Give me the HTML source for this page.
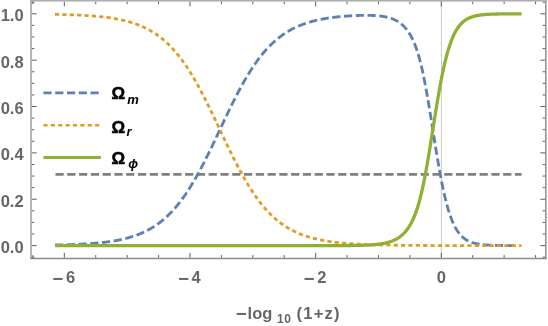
<!DOCTYPE html>
<html><head><meta charset="utf-8"><title>plot</title>
<style>html,body{margin:0;padding:0;background:#fff;}svg{display:block;will-change:transform;}</style>
</head><body>
<svg width="548" height="326" viewBox="0 0 548 326">
<rect x="0" y="0" width="548" height="326" fill="#ffffff"/>
<line x1="441.40" y1="0.80" x2="441.40" y2="258.50" stroke="#c2c2c2" stroke-width="0.9"/>
<path d="M55.5,174.35 L521.6,174.35" fill="none" stroke="#808080" stroke-width="2.9" stroke-dasharray="8.2 3.58"/>
<path d="M55.00,245.05 L55.52,245.04 L56.04,245.03 L56.56,245.02 L57.08,245.01 L57.60,245.00 L58.11,244.98 L58.63,244.97 L59.15,244.96 L59.67,244.95 L60.19,244.94 L60.71,244.92 L61.23,244.91 L61.75,244.90 L62.27,244.88 L62.79,244.87 L63.30,244.86 L63.82,244.84 L64.34,244.83 L64.86,244.81 L65.38,244.80 L65.90,244.78 L66.42,244.77 L66.94,244.75 L67.46,244.73 L67.98,244.72 L68.49,244.70 L69.01,244.68 L69.53,244.67 L70.05,244.65 L70.57,244.63 L71.09,244.61 L71.61,244.59 L72.13,244.57 L72.65,244.55 L73.17,244.53 L73.68,244.51 L74.20,244.49 L74.72,244.47 L75.24,244.45 L75.76,244.43 L76.28,244.41 L76.80,244.38 L77.32,244.36 L77.84,244.34 L78.36,244.31 L78.87,244.29 L79.39,244.26 L79.91,244.24 L80.43,244.21 L80.95,244.18 L81.47,244.16 L81.99,244.13 L82.51,244.10 L83.03,244.07 L83.55,244.04 L84.07,244.01 L84.58,243.98 L85.10,243.95 L85.62,243.92 L86.14,243.89 L86.66,243.86 L87.18,243.82 L87.70,243.79 L88.22,243.76 L88.74,243.72 L89.26,243.68 L89.77,243.65 L90.29,243.61 L90.81,243.57 L91.33,243.53 L91.85,243.49 L92.37,243.45 L92.89,243.41 L93.41,243.37 L93.93,243.33 L94.45,243.29 L94.96,243.24 L95.48,243.20 L96.00,243.15 L96.52,243.11 L97.04,243.06 L97.56,243.01 L98.08,242.96 L98.60,242.91 L99.12,242.86 L99.64,242.81 L100.15,242.75 L100.67,242.70 L101.19,242.65 L101.71,242.59 L102.23,242.53 L102.75,242.47 L103.27,242.42 L103.79,242.36 L104.31,242.29 L104.83,242.23 L105.35,242.17 L105.86,242.10 L106.38,242.04 L106.90,241.97 L107.42,241.90 L107.94,241.83 L108.46,241.76 L108.98,241.69 L109.50,241.61 L110.02,241.54 L110.54,241.46 L111.05,241.38 L111.57,241.30 L112.09,241.22 L112.61,241.14 L113.13,241.06 L113.65,240.97 L114.17,240.88 L114.69,240.80 L115.21,240.71 L115.73,240.61 L116.24,240.52 L116.76,240.42 L117.28,240.33 L117.80,240.23 L118.32,240.13 L118.84,240.02 L119.36,239.92 L119.88,239.81 L120.40,239.71 L120.92,239.60 L121.43,239.48 L121.95,239.37 L122.47,239.25 L122.99,239.13 L123.51,239.01 L124.03,238.89 L124.55,238.77 L125.07,238.64 L125.59,238.51 L126.11,238.38 L126.62,238.24 L127.14,238.11 L127.66,237.97 L128.18,237.82 L128.70,237.68 L129.22,237.53 L129.74,237.38 L130.26,237.23 L130.78,237.08 L131.30,236.92 L131.82,236.76 L132.33,236.60 L132.85,236.43 L133.37,236.26 L133.89,236.09 L134.41,235.91 L134.93,235.74 L135.45,235.56 L135.97,235.37 L136.49,235.18 L137.01,234.99 L137.52,234.80 L138.04,234.60 L138.56,234.40 L139.08,234.19 L139.60,233.99 L140.12,233.78 L140.64,233.56 L141.16,233.34 L141.68,233.12 L142.20,232.89 L142.71,232.66 L143.23,232.43 L143.75,232.19 L144.27,231.95 L144.79,231.70 L145.31,231.45 L145.83,231.19 L146.35,230.94 L146.87,230.67 L147.39,230.40 L147.90,230.13 L148.42,229.85 L148.94,229.57 L149.46,229.29 L149.98,229.00 L150.50,228.70 L151.02,228.40 L151.54,228.09 L152.06,227.78 L152.58,227.47 L153.09,227.15 L153.61,226.82 L154.13,226.49 L154.65,226.16 L155.17,225.81 L155.69,225.47 L156.21,225.12 L156.73,224.76 L157.25,224.39 L157.77,224.02 L158.29,223.65 L158.80,223.27 L159.32,222.88 L159.84,222.49 L160.36,222.09 L160.88,221.68 L161.40,221.27 L161.92,220.86 L162.44,220.43 L162.96,220.00 L163.48,219.57 L163.99,219.12 L164.51,218.67 L165.03,218.22 L165.55,217.76 L166.07,217.29 L166.59,216.81 L167.11,216.33 L167.63,215.84 L168.15,215.34 L168.67,214.84 L169.18,214.33 L169.70,213.81 L170.22,213.28 L170.74,212.75 L171.26,212.21 L171.78,211.66 L172.30,211.11 L172.82,210.54 L173.34,209.98 L173.86,209.40 L174.37,208.81 L174.89,208.22 L175.41,207.62 L175.93,207.01 L176.45,206.40 L176.97,205.77 L177.49,205.14 L178.01,204.50 L178.53,203.86 L179.05,203.20 L179.57,202.54 L180.08,201.87 L180.60,201.19 L181.12,200.50 L181.64,199.81 L182.16,199.10 L182.68,198.39 L183.20,197.67 L183.72,196.95 L184.24,196.21 L184.76,195.47 L185.27,194.72 L185.79,193.96 L186.31,193.19 L186.83,192.41 L187.35,191.63 L187.87,190.84 L188.39,190.04 L188.91,189.23 L189.43,188.42 L189.95,187.59 L190.46,186.76 L190.98,185.92 L191.50,185.08 L192.02,184.22 L192.54,183.36 L193.06,182.49 L193.58,181.61 L194.10,180.73 L194.62,179.83 L195.14,178.94 L195.65,178.03 L196.17,177.11 L196.69,176.19 L197.21,175.26 L197.73,174.33 L198.25,173.39 L198.77,172.44 L199.29,171.48 L199.81,170.52 L200.33,169.55 L200.84,168.58 L201.36,167.59 L201.88,166.61 L202.40,165.61 L202.92,164.61 L203.44,163.61 L203.96,162.60 L204.48,161.58 L205.00,160.56 L205.52,159.53 L206.04,158.50 L206.55,157.47 L207.07,156.42 L207.59,155.38 L208.11,154.33 L208.63,153.27 L209.15,152.21 L209.67,151.15 L210.19,150.09 L210.71,149.02 L211.23,147.94 L211.74,146.87 L212.26,145.79 L212.78,144.70 L213.30,143.62 L213.82,142.53 L214.34,141.44 L214.86,140.35 L215.38,139.26 L215.90,138.16 L216.42,137.06 L216.93,135.96 L217.45,134.86 L217.97,133.76 L218.49,132.66 L219.01,131.56 L219.53,130.46 L220.05,129.36 L220.57,128.25 L221.09,127.15 L221.61,126.05 L222.12,124.95 L222.64,123.85 L223.16,122.75 L223.68,121.65 L224.20,120.56 L224.72,119.46 L225.24,118.37 L225.76,117.28 L226.28,116.19 L226.80,115.11 L227.32,114.02 L227.83,112.94 L228.35,111.86 L228.87,110.79 L229.39,109.72 L229.91,108.65 L230.43,107.59 L230.95,106.53 L231.47,105.47 L231.99,104.42 L232.51,103.37 L233.02,102.33 L233.54,101.29 L234.06,100.25 L234.58,99.23 L235.10,98.20 L235.62,97.18 L236.14,96.17 L236.66,95.16 L237.18,94.16 L237.70,93.17 L238.21,92.18 L238.73,91.19 L239.25,90.22 L239.77,89.25 L240.29,88.28 L240.81,87.32 L241.33,86.37 L241.85,85.43 L242.37,84.49 L242.89,83.56 L243.40,82.63 L243.92,81.72 L244.44,80.81 L244.96,79.90 L245.48,79.01 L246.00,78.12 L246.52,77.24 L247.04,76.37 L247.56,75.50 L248.08,74.65 L248.59,73.80 L249.11,72.95 L249.63,72.12 L250.15,71.29 L250.67,70.48 L251.19,69.66 L251.71,68.86 L252.23,68.07 L252.75,67.28 L253.27,66.50 L253.79,65.73 L254.30,64.97 L254.82,64.22 L255.34,63.47 L255.86,62.73 L256.38,62.00 L256.90,61.28 L257.42,60.56 L257.94,59.86 L258.46,59.16 L258.98,58.47 L259.49,57.79 L260.01,57.11 L260.53,56.45 L261.05,55.79 L261.57,55.14 L262.09,54.50 L262.61,53.86 L263.13,53.24 L263.65,52.62 L264.17,52.01 L264.68,51.40 L265.20,50.81 L265.72,50.22 L266.24,49.64 L266.76,49.07 L267.28,48.50 L267.80,47.95 L268.32,47.40 L268.84,46.85 L269.36,46.32 L269.87,45.79 L270.39,45.27 L270.91,44.76 L271.43,44.25 L271.95,43.75 L272.47,43.26 L272.99,42.77 L273.51,42.29 L274.03,41.82 L274.55,41.36 L275.06,40.90 L275.58,40.44 L276.10,40.00 L276.62,39.56 L277.14,39.13 L277.66,38.70 L278.18,38.28 L278.70,37.87 L279.22,37.46 L279.74,37.06 L280.26,36.67 L280.77,36.28 L281.29,35.89 L281.81,35.52 L282.33,35.15 L282.85,34.78 L283.37,34.42 L283.89,34.07 L284.41,33.72 L284.93,33.37 L285.45,33.03 L285.96,32.70 L286.48,32.37 L287.00,32.05 L287.52,31.73 L288.04,31.42 L288.56,31.11 L289.08,30.81 L289.60,30.52 L290.12,30.22 L290.64,29.93 L291.15,29.65 L291.67,29.37 L292.19,29.10 L292.71,28.83 L293.23,28.56 L293.75,28.30 L294.27,28.05 L294.79,27.80 L295.31,27.55 L295.83,27.30 L296.34,27.06 L296.86,26.83 L297.38,26.60 L297.90,26.37 L298.42,26.14 L298.94,25.92 L299.46,25.71 L299.98,25.49 L300.50,25.28 L301.02,25.08 L301.54,24.88 L302.05,24.68 L302.57,24.48 L303.09,24.29 L303.61,24.10 L304.13,23.92 L304.65,23.73 L305.17,23.55 L305.69,23.38 L306.21,23.21 L306.73,23.04 L307.24,22.87 L307.76,22.70 L308.28,22.54 L308.80,22.38 L309.32,22.23 L309.84,22.08 L310.36,21.93 L310.88,21.78 L311.40,21.63 L311.92,21.49 L312.43,21.35 L312.95,21.21 L313.47,21.08 L313.99,20.95 L314.51,20.82 L315.03,20.69 L315.55,20.56 L316.07,20.44 L316.59,20.32 L317.11,20.20 L317.62,20.08 L318.14,19.97 L318.66,19.85 L319.18,19.74 L319.70,19.63 L320.22,19.53 L320.74,19.42 L321.26,19.32 L321.78,19.22 L322.30,19.12 L322.81,19.02 L323.33,18.93 L323.85,18.83 L324.37,18.74 L324.89,18.65 L325.41,18.56 L325.93,18.47 L326.45,18.39 L326.97,18.31 L327.49,18.22 L328.01,18.14 L328.52,18.06 L329.04,17.98 L329.56,17.91 L330.08,17.83 L330.60,17.76 L331.12,17.69 L331.64,17.62 L332.16,17.55 L332.68,17.48 L333.20,17.41 L333.71,17.35 L334.23,17.28 L334.75,17.22 L335.27,17.16 L335.79,17.10 L336.31,17.04 L336.83,16.98 L337.35,16.92 L337.87,16.87 L338.39,16.81 L338.90,16.76 L339.42,16.71 L339.94,16.66 L340.46,16.61 L340.98,16.56 L341.50,16.51 L342.02,16.46 L342.54,16.42 L343.06,16.37 L343.58,16.33 L344.09,16.28 L344.61,16.24 L345.13,16.20 L345.65,16.16 L346.17,16.12 L346.69,16.08 L347.21,16.05 L347.73,16.01 L348.25,15.98 L348.77,15.94 L349.28,15.91 L349.80,15.87 L350.32,15.84 L350.84,15.81 L351.36,15.78 L351.88,15.75 L352.40,15.73 L352.92,15.70 L353.44,15.67 L353.96,15.65 L354.48,15.62 L354.99,15.60 L355.51,15.58 L356.03,15.56 L356.55,15.54 L357.07,15.52 L357.59,15.50 L358.11,15.48 L358.63,15.46 L359.15,15.45 L359.67,15.43 L360.18,15.42 L360.70,15.41 L361.22,15.40 L361.74,15.39 L362.26,15.38 L362.78,15.37 L363.30,15.36 L363.82,15.36 L364.34,15.35 L364.86,15.35 L365.37,15.35 L365.89,15.34 L366.41,15.34 L366.93,15.35 L367.45,15.35 L367.97,15.35 L368.49,15.36 L369.01,15.37 L369.53,15.38 L370.05,15.39 L370.56,15.40 L371.08,15.42 L371.60,15.43 L372.12,15.45 L372.64,15.47 L373.16,15.49 L373.68,15.52 L374.20,15.54 L374.72,15.57 L375.24,15.60 L375.76,15.64 L376.27,15.67 L376.79,15.71 L377.31,15.75 L377.83,15.79 L378.35,15.84 L378.87,15.89 L379.39,15.94 L379.91,16.00 L380.43,16.06 L380.95,16.12 L381.46,16.19 L381.98,16.26 L382.50,16.33 L383.02,16.41 L383.54,16.50 L384.06,16.58 L384.58,16.68 L385.10,16.77 L385.62,16.88 L386.14,16.99 L386.65,17.10 L387.17,17.22 L387.69,17.34 L388.21,17.48 L388.73,17.61 L389.25,17.76 L389.77,17.91 L390.29,18.07 L390.81,18.24 L391.33,18.42 L391.84,18.60 L392.36,18.79 L392.88,19.00 L393.40,19.21 L393.92,19.43 L394.44,19.66 L394.96,19.91 L395.48,20.16 L396.00,20.43 L396.52,20.71 L397.03,21.00 L397.55,21.31 L398.07,21.63 L398.59,21.96 L399.11,22.31 L399.63,22.68 L400.15,23.06 L400.67,23.46 L401.19,23.87 L401.71,24.31 L402.23,24.76 L402.74,25.24 L403.26,25.73 L403.78,26.25 L404.30,26.79 L404.82,27.35 L405.34,27.94 L405.86,28.55 L406.38,29.19 L406.90,29.86 L407.42,30.55 L407.93,31.28 L408.45,32.03 L408.97,32.82 L409.49,33.64 L410.01,34.50 L410.53,35.39 L411.05,36.32 L411.57,37.29 L412.09,38.30 L412.61,39.36 L413.12,40.46 L413.64,41.61 L414.16,42.81 L414.68,44.06 L415.20,45.37 L415.72,46.74 L416.24,48.18 L416.76,49.67 L417.28,51.24 L417.80,52.87 L418.31,54.58 L418.83,56.36 L419.35,58.22 L419.87,60.16 L420.39,62.17 L420.91,64.26 L421.43,66.43 L421.95,68.68 L422.47,71.00 L422.99,73.40 L423.51,75.87 L424.02,78.42 L424.54,81.03 L425.06,83.72 L425.58,86.47 L426.10,89.28 L426.62,92.16 L427.14,95.09 L427.66,98.08 L428.18,101.11 L428.70,104.19 L429.21,107.32 L429.73,110.48 L430.25,113.67 L430.77,116.89 L431.29,120.14 L431.81,123.40 L432.33,126.67 L432.85,129.95 L433.37,133.23 L433.89,136.51 L434.40,139.77 L434.92,143.02 L435.44,146.26 L435.96,149.46 L436.48,152.64 L437.00,155.78 L437.52,158.88 L438.04,161.94 L438.56,164.96 L439.08,167.92 L439.59,170.83 L440.11,173.68 L440.63,176.46 L441.15,179.19 L441.67,181.85 L442.19,184.45 L442.71,186.97 L443.23,189.43 L443.75,191.82 L444.27,194.13 L444.78,196.37 L445.30,198.54 L445.82,200.64 L446.34,202.67 L446.86,204.63 L447.38,206.51 L447.90,208.33 L448.42,210.07 L448.94,211.75 L449.46,213.37 L449.98,214.91 L450.49,216.40 L451.01,217.82 L451.53,219.19 L452.05,220.49 L452.57,221.74 L453.09,222.93 L453.61,224.07 L454.13,225.16 L454.65,226.19 L455.17,227.18 L455.68,228.13 L456.20,229.02 L456.72,229.88 L457.24,230.70 L457.76,231.47 L458.28,232.21 L458.80,232.91 L459.32,233.58 L459.84,234.21 L460.36,234.81 L460.87,235.38 L461.39,235.93 L461.91,236.44 L462.43,236.93 L462.95,237.39 L463.47,237.83 L463.99,238.25 L464.51,238.64 L465.03,239.02 L465.55,239.37 L466.06,239.71 L466.58,240.03 L467.10,240.33 L467.62,240.62 L468.14,240.89 L468.66,241.14 L469.18,241.39 L469.70,241.61 L470.22,241.83 L470.74,242.04 L471.25,242.23 L471.77,242.42 L472.29,242.59 L472.81,242.76 L473.33,242.91 L473.85,243.06 L474.37,243.20 L474.89,243.33 L475.41,243.45 L475.93,243.57 L476.45,243.68 L476.96,243.79 L477.48,243.89 L478.00,243.98 L478.52,244.07 L479.04,244.16 L479.56,244.24 L480.08,244.31 L480.60,244.38 L481.12,244.45 L481.64,244.51 L482.15,244.57 L482.67,244.63 L483.19,244.68 L483.71,244.73 L484.23,244.78 L484.75,244.83 L485.27,244.87 L485.79,244.91 L486.31,244.95 L486.83,244.98 L487.34,245.02 L487.86,245.05 L488.38,245.08 L488.90,245.11 L489.42,245.14 L489.94,245.16 L490.46,245.19 L490.98,245.21 L491.50,245.23 L492.02,245.25 L492.53,245.27 L493.05,245.29 L493.57,245.31 L494.09,245.32 L494.61,245.34 L495.13,245.35 L495.65,245.37 L496.17,245.38 L496.69,245.39 L497.21,245.40 L497.73,245.41 L498.24,245.42 L498.76,245.43 L499.28,245.44 L499.80,245.45 L500.32,245.46 L500.84,245.47 L501.36,245.48 L501.88,245.48 L502.40,245.49 L502.92,245.49 L503.43,245.50 L503.95,245.51 L504.47,245.51 L504.99,245.52 L505.51,245.52 L506.03,245.53 L506.55,245.53 L507.07,245.53 L507.59,245.54 L508.11,245.54 L508.62,245.54 L509.14,245.55 L509.66,245.55 L510.18,245.55 L510.70,245.56 L511.22,245.56 L511.74,245.56 L512.26,245.56 L512.78,245.56 L513.30,245.57 L513.81,245.57 L514.33,245.57" fill="none" stroke="#5E81B5" stroke-width="2.85" stroke-dasharray="8.2 3.58" stroke-linejoin="round"/>
<path d="M55.00,14.35 L55.52,14.36 L56.04,14.37 L56.56,14.38 L57.08,14.39 L57.60,14.40 L58.11,14.42 L58.63,14.43 L59.15,14.44 L59.67,14.45 L60.19,14.46 L60.71,14.48 L61.23,14.49 L61.75,14.50 L62.27,14.52 L62.79,14.53 L63.30,14.54 L63.82,14.56 L64.34,14.57 L64.86,14.59 L65.38,14.60 L65.90,14.62 L66.42,14.63 L66.94,14.65 L67.46,14.67 L67.98,14.68 L68.49,14.70 L69.01,14.72 L69.53,14.73 L70.05,14.75 L70.57,14.77 L71.09,14.79 L71.61,14.81 L72.13,14.83 L72.65,14.85 L73.17,14.87 L73.68,14.89 L74.20,14.91 L74.72,14.93 L75.24,14.95 L75.76,14.97 L76.28,14.99 L76.80,15.02 L77.32,15.04 L77.84,15.06 L78.36,15.09 L78.87,15.11 L79.39,15.14 L79.91,15.16 L80.43,15.19 L80.95,15.22 L81.47,15.24 L81.99,15.27 L82.51,15.30 L83.03,15.33 L83.55,15.36 L84.07,15.39 L84.58,15.42 L85.10,15.45 L85.62,15.48 L86.14,15.51 L86.66,15.54 L87.18,15.58 L87.70,15.61 L88.22,15.64 L88.74,15.68 L89.26,15.72 L89.77,15.75 L90.29,15.79 L90.81,15.83 L91.33,15.87 L91.85,15.91 L92.37,15.95 L92.89,15.99 L93.41,16.03 L93.93,16.07 L94.45,16.11 L94.96,16.16 L95.48,16.20 L96.00,16.25 L96.52,16.29 L97.04,16.34 L97.56,16.39 L98.08,16.44 L98.60,16.49 L99.12,16.54 L99.64,16.59 L100.15,16.65 L100.67,16.70 L101.19,16.75 L101.71,16.81 L102.23,16.87 L102.75,16.93 L103.27,16.98 L103.79,17.04 L104.31,17.11 L104.83,17.17 L105.35,17.23 L105.86,17.30 L106.38,17.36 L106.90,17.43 L107.42,17.50 L107.94,17.57 L108.46,17.64 L108.98,17.71 L109.50,17.79 L110.02,17.86 L110.54,17.94 L111.05,18.02 L111.57,18.10 L112.09,18.18 L112.61,18.26 L113.13,18.34 L113.65,18.43 L114.17,18.52 L114.69,18.60 L115.21,18.69 L115.73,18.79 L116.24,18.88 L116.76,18.98 L117.28,19.07 L117.80,19.17 L118.32,19.27 L118.84,19.38 L119.36,19.48 L119.88,19.59 L120.40,19.69 L120.92,19.80 L121.43,19.92 L121.95,20.03 L122.47,20.15 L122.99,20.27 L123.51,20.39 L124.03,20.51 L124.55,20.63 L125.07,20.76 L125.59,20.89 L126.11,21.02 L126.62,21.16 L127.14,21.29 L127.66,21.43 L128.18,21.58 L128.70,21.72 L129.22,21.87 L129.74,22.02 L130.26,22.17 L130.78,22.32 L131.30,22.48 L131.82,22.64 L132.33,22.80 L132.85,22.97 L133.37,23.14 L133.89,23.31 L134.41,23.49 L134.93,23.66 L135.45,23.84 L135.97,24.03 L136.49,24.22 L137.01,24.41 L137.52,24.60 L138.04,24.80 L138.56,25.00 L139.08,25.21 L139.60,25.41 L140.12,25.62 L140.64,25.84 L141.16,26.06 L141.68,26.28 L142.20,26.51 L142.71,26.74 L143.23,26.97 L143.75,27.21 L144.27,27.45 L144.79,27.70 L145.31,27.95 L145.83,28.21 L146.35,28.46 L146.87,28.73 L147.39,29.00 L147.90,29.27 L148.42,29.55 L148.94,29.83 L149.46,30.11 L149.98,30.40 L150.50,30.70 L151.02,31.00 L151.54,31.31 L152.06,31.62 L152.58,31.93 L153.09,32.25 L153.61,32.58 L154.13,32.91 L154.65,33.24 L155.17,33.59 L155.69,33.93 L156.21,34.28 L156.73,34.64 L157.25,35.01 L157.77,35.38 L158.29,35.75 L158.80,36.13 L159.32,36.52 L159.84,36.91 L160.36,37.31 L160.88,37.72 L161.40,38.13 L161.92,38.54 L162.44,38.97 L162.96,39.40 L163.48,39.83 L163.99,40.28 L164.51,40.73 L165.03,41.18 L165.55,41.64 L166.07,42.11 L166.59,42.59 L167.11,43.07 L167.63,43.56 L168.15,44.06 L168.67,44.56 L169.18,45.07 L169.70,45.59 L170.22,46.12 L170.74,46.65 L171.26,47.19 L171.78,47.74 L172.30,48.29 L172.82,48.86 L173.34,49.42 L173.86,50.00 L174.37,50.59 L174.89,51.18 L175.41,51.78 L175.93,52.39 L176.45,53.00 L176.97,53.63 L177.49,54.26 L178.01,54.90 L178.53,55.54 L179.05,56.20 L179.57,56.86 L180.08,57.53 L180.60,58.21 L181.12,58.90 L181.64,59.59 L182.16,60.30 L182.68,61.01 L183.20,61.73 L183.72,62.45 L184.24,63.19 L184.76,63.93 L185.27,64.68 L185.79,65.44 L186.31,66.21 L186.83,66.99 L187.35,67.77 L187.87,68.56 L188.39,69.36 L188.91,70.17 L189.43,70.98 L189.95,71.81 L190.46,72.64 L190.98,73.48 L191.50,74.32 L192.02,75.18 L192.54,76.04 L193.06,76.91 L193.58,77.79 L194.10,78.67 L194.62,79.57 L195.14,80.46 L195.65,81.37 L196.17,82.29 L196.69,83.21 L197.21,84.14 L197.73,85.07 L198.25,86.01 L198.77,86.96 L199.29,87.92 L199.81,88.88 L200.33,89.85 L200.84,90.82 L201.36,91.81 L201.88,92.79 L202.40,93.79 L202.92,94.79 L203.44,95.79 L203.96,96.80 L204.48,97.82 L205.00,98.84 L205.52,99.87 L206.04,100.90 L206.55,101.93 L207.07,102.98 L207.59,104.02 L208.11,105.07 L208.63,106.13 L209.15,107.19 L209.67,108.25 L210.19,109.31 L210.71,110.38 L211.23,111.46 L211.74,112.53 L212.26,113.61 L212.78,114.70 L213.30,115.78 L213.82,116.87 L214.34,117.96 L214.86,119.05 L215.38,120.14 L215.90,121.24 L216.42,122.34 L216.93,123.44 L217.45,124.54 L217.97,125.64 L218.49,126.74 L219.01,127.84 L219.53,128.94 L220.05,130.04 L220.57,131.15 L221.09,132.25 L221.61,133.35 L222.12,134.45 L222.64,135.55 L223.16,136.65 L223.68,137.75 L224.20,138.84 L224.72,139.94 L225.24,141.03 L225.76,142.12 L226.28,143.21 L226.80,144.29 L227.32,145.38 L227.83,146.46 L228.35,147.54 L228.87,148.61 L229.39,149.68 L229.91,150.75 L230.43,151.81 L230.95,152.87 L231.47,153.93 L231.99,154.98 L232.51,156.03 L233.02,157.07 L233.54,158.11 L234.06,159.15 L234.58,160.17 L235.10,161.20 L235.62,162.22 L236.14,163.23 L236.66,164.24 L237.18,165.24 L237.70,166.23 L238.21,167.22 L238.73,168.21 L239.25,169.18 L239.77,170.15 L240.29,171.12 L240.81,172.08 L241.33,173.03 L241.85,173.97 L242.37,174.91 L242.89,175.84 L243.40,176.77 L243.92,177.68 L244.44,178.59 L244.96,179.50 L245.48,180.39 L246.00,181.28 L246.52,182.16 L247.04,183.03 L247.56,183.90 L248.08,184.75 L248.59,185.60 L249.11,186.45 L249.63,187.28 L250.15,188.11 L250.67,188.92 L251.19,189.74 L251.71,190.54 L252.23,191.33 L252.75,192.12 L253.27,192.90 L253.79,193.67 L254.30,194.43 L254.82,195.18 L255.34,195.93 L255.86,196.67 L256.38,197.40 L256.90,198.12 L257.42,198.84 L257.94,199.54 L258.46,200.24 L258.98,200.93 L259.49,201.61 L260.01,202.29 L260.53,202.95 L261.05,203.61 L261.57,204.26 L262.09,204.90 L262.61,205.54 L263.13,206.16 L263.65,206.78 L264.17,207.39 L264.68,208.00 L265.20,208.59 L265.72,209.18 L266.24,209.76 L266.76,210.33 L267.28,210.90 L267.80,211.45 L268.32,212.00 L268.84,212.55 L269.36,213.08 L269.87,213.61 L270.39,214.13 L270.91,214.64 L271.43,215.15 L271.95,215.65 L272.47,216.14 L272.99,216.63 L273.51,217.11 L274.03,217.58 L274.55,218.04 L275.06,218.50 L275.58,218.96 L276.10,219.40 L276.62,219.84 L277.14,220.27 L277.66,220.70 L278.18,221.12 L278.70,221.53 L279.22,221.94 L279.74,222.34 L280.26,222.73 L280.77,223.12 L281.29,223.51 L281.81,223.88 L282.33,224.25 L282.85,224.62 L283.37,224.98 L283.89,225.34 L284.41,225.68 L284.93,226.03 L285.45,226.37 L285.96,226.70 L286.48,227.03 L287.00,227.35 L287.52,227.67 L288.04,227.98 L288.56,228.29 L289.08,228.59 L289.60,228.89 L290.12,229.18 L290.64,229.47 L291.15,229.75 L291.67,230.03 L292.19,230.30 L292.71,230.57 L293.23,230.84 L293.75,231.10 L294.27,231.35 L294.79,231.61 L295.31,231.85 L295.83,232.10 L296.34,232.34 L296.86,232.57 L297.38,232.81 L297.90,233.03 L298.42,233.26 L298.94,233.48 L299.46,233.69 L299.98,233.91 L300.50,234.12 L301.02,234.32 L301.54,234.53 L302.05,234.72 L302.57,234.92 L303.09,235.11 L303.61,235.30 L304.13,235.49 L304.65,235.67 L305.17,235.85 L305.69,236.02 L306.21,236.20 L306.73,236.37 L307.24,236.53 L307.76,236.70 L308.28,236.86 L308.80,237.02 L309.32,237.17 L309.84,237.33 L310.36,237.48 L310.88,237.63 L311.40,237.77 L311.92,237.91 L312.43,238.05 L312.95,238.19 L313.47,238.33 L313.99,238.46 L314.51,238.59 L315.03,238.72 L315.55,238.84 L316.07,238.97 L316.59,239.09 L317.11,239.21 L317.62,239.33 L318.14,239.44 L318.66,239.55 L319.18,239.66 L319.70,239.77 L320.22,239.88 L320.74,239.99 L321.26,240.09 L321.78,240.19 L322.30,240.29 L322.81,240.39 L323.33,240.48 L323.85,240.58 L324.37,240.67 L324.89,240.76 L325.41,240.85 L325.93,240.94 L326.45,241.02 L326.97,241.11 L327.49,241.19 L328.01,241.27 L328.52,241.35 L329.04,241.43 L329.56,241.51 L330.08,241.59 L330.60,241.66 L331.12,241.73 L331.64,241.80 L332.16,241.87 L332.68,241.94 L333.20,242.01 L333.71,242.08 L334.23,242.14 L334.75,242.21 L335.27,242.27 L335.79,242.33 L336.31,242.39 L336.83,242.45 L337.35,242.51 L337.87,242.57 L338.39,242.63 L338.90,242.68 L339.42,242.74 L339.94,242.79 L340.46,242.84 L340.98,242.89 L341.50,242.94 L342.02,242.99 L342.54,243.04 L343.06,243.09 L343.58,243.14 L344.09,243.18 L344.61,243.23 L345.13,243.27 L345.65,243.31 L346.17,243.36 L346.69,243.40 L347.21,243.44 L347.73,243.48 L348.25,243.52 L348.77,243.56 L349.28,243.60 L349.80,243.63 L350.32,243.67 L350.84,243.71 L351.36,243.74 L351.88,243.78 L352.40,243.81 L352.92,243.85 L353.44,243.88 L353.96,243.91 L354.48,243.94 L354.99,243.97 L355.51,244.00 L356.03,244.03 L356.55,244.06 L357.07,244.09 L357.59,244.12 L358.11,244.15 L358.63,244.18 L359.15,244.20 L359.67,244.23 L360.18,244.25 L360.70,244.28 L361.22,244.30 L361.74,244.33 L362.26,244.35 L362.78,244.38 L363.30,244.40 L363.82,244.42 L364.34,244.44 L364.86,244.47 L365.37,244.49 L365.89,244.51 L366.41,244.53 L366.93,244.55 L367.45,244.57 L367.97,244.59 L368.49,244.61 L369.01,244.63 L369.53,244.64 L370.05,244.66 L370.56,244.68 L371.08,244.70 L371.60,244.71 L372.12,244.73 L372.64,244.75 L373.16,244.76 L373.68,244.78 L374.20,244.79 L374.72,244.81 L375.24,244.83 L375.76,244.84 L376.27,244.85 L376.79,244.87 L377.31,244.88 L377.83,244.90 L378.35,244.91 L378.87,244.92 L379.39,244.94 L379.91,244.95 L380.43,244.96 L380.95,244.97 L381.46,244.98 L381.98,245.00 L382.50,245.01 L383.02,245.02 L383.54,245.03 L384.06,245.04 L384.58,245.05 L385.10,245.06 L385.62,245.07 L386.14,245.08 L386.65,245.09 L387.17,245.10 L387.69,245.11 L388.21,245.12 L388.73,245.13 L389.25,245.14 L389.77,245.15 L390.29,245.16 L390.81,245.17 L391.33,245.18 L391.84,245.18 L392.36,245.19 L392.88,245.20 L393.40,245.21 L393.92,245.22 L394.44,245.22 L394.96,245.23 L395.48,245.24 L396.00,245.25 L396.52,245.25 L397.03,245.26 L397.55,245.27 L398.07,245.27 L398.59,245.28 L399.11,245.29 L399.63,245.29 L400.15,245.30 L400.67,245.31 L401.19,245.31 L401.71,245.32 L402.23,245.32 L402.74,245.33 L403.26,245.33 L403.78,245.34 L404.30,245.35 L404.82,245.35 L405.34,245.36 L405.86,245.36 L406.38,245.37 L406.90,245.37 L407.42,245.38 L407.93,245.38 L408.45,245.39 L408.97,245.39 L409.49,245.40 L410.01,245.40 L410.53,245.41 L411.05,245.41 L411.57,245.41 L412.09,245.42 L412.61,245.42 L413.12,245.43 L413.64,245.43 L414.16,245.44 L414.68,245.44 L415.20,245.44 L415.72,245.45 L416.24,245.45 L416.76,245.46 L417.28,245.46 L417.80,245.46 L418.31,245.47 L418.83,245.47 L419.35,245.47 L419.87,245.48 L420.39,245.48 L420.91,245.49 L421.43,245.49 L421.95,245.49 L422.47,245.50 L422.99,245.50 L423.51,245.50 L424.02,245.51 L424.54,245.51 L425.06,245.51 L425.58,245.52 L426.10,245.52 L426.62,245.52 L427.14,245.52 L427.66,245.53 L428.18,245.53 L428.70,245.53 L429.21,245.54 L429.73,245.54 L430.25,245.54 L430.77,245.54 L431.29,245.55 L431.81,245.55 L432.33,245.55 L432.85,245.55 L433.37,245.56 L433.89,245.56 L434.40,245.56 L434.92,245.56 L435.44,245.56 L435.96,245.57 L436.48,245.57 L437.00,245.57 L437.52,245.57 L438.04,245.57 L438.56,245.57 L439.08,245.57 L439.59,245.58 L440.11,245.58 L440.63,245.58 L441.15,245.58 L441.67,245.58 L442.19,245.58 L442.71,245.58 L443.23,245.58 L443.75,245.59 L444.27,245.59 L444.78,245.59 L445.30,245.59 L445.82,245.59 L446.34,245.59 L446.86,245.59 L447.38,245.59 L447.90,245.59 L448.42,245.59 L448.94,245.59 L449.46,245.59 L449.98,245.59 L450.49,245.59 L451.01,245.59 L451.53,245.59 L452.05,245.59 L452.57,245.60 L453.09,245.60 L453.61,245.60 L454.13,245.60 L454.65,245.60 L455.17,245.60 L455.68,245.60 L456.20,245.60 L456.72,245.60 L457.24,245.60 L457.76,245.60 L458.28,245.60 L458.80,245.60 L459.32,245.60 L459.84,245.60 L460.36,245.60 L460.87,245.60 L461.39,245.60 L461.91,245.60 L462.43,245.60 L462.95,245.60 L463.47,245.60 L463.99,245.60 L464.51,245.60 L465.03,245.60 L465.55,245.60 L466.06,245.60 L466.58,245.60 L467.10,245.60 L467.62,245.60 L468.14,245.60 L468.66,245.60 L469.18,245.60 L469.70,245.60 L470.22,245.60 L470.74,245.60 L471.25,245.60 L471.77,245.60 L472.29,245.60 L472.81,245.60 L473.33,245.60 L473.85,245.60 L474.37,245.60 L474.89,245.60 L475.41,245.60 L475.93,245.60 L476.45,245.60 L476.96,245.60 L477.48,245.60 L478.00,245.60 L478.52,245.60 L479.04,245.60 L479.56,245.60 L480.08,245.60 L480.60,245.60 L481.12,245.60 L481.64,245.60 L482.15,245.60 L482.67,245.60 L483.19,245.60 L483.71,245.60 L484.23,245.60 L484.75,245.60 L485.27,245.60 L485.79,245.60 L486.31,245.60 L486.83,245.60 L487.34,245.60 L487.86,245.60 L488.38,245.60 L488.90,245.60 L489.42,245.60 L489.94,245.60 L490.46,245.60 L490.98,245.60 L491.50,245.60 L492.02,245.60 L492.53,245.60 L493.05,245.60 L493.57,245.60 L494.09,245.60 L494.61,245.60 L495.13,245.60 L495.65,245.60 L496.17,245.60 L496.69,245.60 L497.21,245.60 L497.73,245.60 L498.24,245.60 L498.76,245.60 L499.28,245.60 L499.80,245.60 L500.32,245.60 L500.84,245.60 L501.36,245.60 L501.88,245.60 L502.40,245.60 L502.92,245.60 L503.43,245.60 L503.95,245.60 L504.47,245.60 L504.99,245.60 L505.51,245.60 L506.03,245.60 L506.55,245.60 L507.07,245.60 L507.59,245.60 L508.11,245.60 L508.62,245.60 L509.14,245.60 L509.66,245.60 L510.18,245.60 L510.70,245.60 L511.22,245.60 L511.74,245.60 L512.26,245.60 L512.78,245.60 L513.30,245.60 L513.81,245.60 L514.33,245.60 L514.85,245.60 L515.37,245.60 L515.89,245.60 L516.41,245.60 L516.93,245.60 L517.45,245.60 L517.97,245.60 L518.49,245.60 L519.00,245.60 L519.52,245.60 L520.04,245.60 L520.56,245.60 L521.08,245.60 L521.60,245.60" fill="none" stroke="#E19C24" stroke-width="2.8" stroke-dasharray="4.2 3.18" stroke-linejoin="round"/>
<path d="M55.00,245.60 L55.52,245.60 L56.04,245.60 L56.56,245.60 L57.08,245.60 L57.60,245.60 L58.11,245.60 L58.63,245.60 L59.15,245.60 L59.67,245.60 L60.19,245.60 L60.71,245.60 L61.23,245.60 L61.75,245.60 L62.27,245.60 L62.79,245.60 L63.30,245.60 L63.82,245.60 L64.34,245.60 L64.86,245.60 L65.38,245.60 L65.90,245.60 L66.42,245.60 L66.94,245.60 L67.46,245.60 L67.98,245.60 L68.49,245.60 L69.01,245.60 L69.53,245.60 L70.05,245.60 L70.57,245.60 L71.09,245.60 L71.61,245.60 L72.13,245.60 L72.65,245.60 L73.17,245.60 L73.68,245.60 L74.20,245.60 L74.72,245.60 L75.24,245.60 L75.76,245.60 L76.28,245.60 L76.80,245.60 L77.32,245.60 L77.84,245.60 L78.36,245.60 L78.87,245.60 L79.39,245.60 L79.91,245.60 L80.43,245.60 L80.95,245.60 L81.47,245.60 L81.99,245.60 L82.51,245.60 L83.03,245.60 L83.55,245.60 L84.07,245.60 L84.58,245.60 L85.10,245.60 L85.62,245.60 L86.14,245.60 L86.66,245.60 L87.18,245.60 L87.70,245.60 L88.22,245.60 L88.74,245.60 L89.26,245.60 L89.77,245.60 L90.29,245.60 L90.81,245.60 L91.33,245.60 L91.85,245.60 L92.37,245.60 L92.89,245.60 L93.41,245.60 L93.93,245.60 L94.45,245.60 L94.96,245.60 L95.48,245.60 L96.00,245.60 L96.52,245.60 L97.04,245.60 L97.56,245.60 L98.08,245.60 L98.60,245.60 L99.12,245.60 L99.64,245.60 L100.15,245.60 L100.67,245.60 L101.19,245.60 L101.71,245.60 L102.23,245.60 L102.75,245.60 L103.27,245.60 L103.79,245.60 L104.31,245.60 L104.83,245.60 L105.35,245.60 L105.86,245.60 L106.38,245.60 L106.90,245.60 L107.42,245.60 L107.94,245.60 L108.46,245.60 L108.98,245.60 L109.50,245.60 L110.02,245.60 L110.54,245.60 L111.05,245.60 L111.57,245.60 L112.09,245.60 L112.61,245.60 L113.13,245.60 L113.65,245.60 L114.17,245.60 L114.69,245.60 L115.21,245.60 L115.73,245.60 L116.24,245.60 L116.76,245.60 L117.28,245.60 L117.80,245.60 L118.32,245.60 L118.84,245.60 L119.36,245.60 L119.88,245.60 L120.40,245.60 L120.92,245.60 L121.43,245.60 L121.95,245.60 L122.47,245.60 L122.99,245.60 L123.51,245.60 L124.03,245.60 L124.55,245.60 L125.07,245.60 L125.59,245.60 L126.11,245.60 L126.62,245.60 L127.14,245.60 L127.66,245.60 L128.18,245.60 L128.70,245.60 L129.22,245.60 L129.74,245.60 L130.26,245.60 L130.78,245.60 L131.30,245.60 L131.82,245.60 L132.33,245.60 L132.85,245.60 L133.37,245.60 L133.89,245.60 L134.41,245.60 L134.93,245.60 L135.45,245.60 L135.97,245.60 L136.49,245.60 L137.01,245.60 L137.52,245.60 L138.04,245.60 L138.56,245.60 L139.08,245.60 L139.60,245.60 L140.12,245.60 L140.64,245.60 L141.16,245.60 L141.68,245.60 L142.20,245.60 L142.71,245.60 L143.23,245.60 L143.75,245.60 L144.27,245.60 L144.79,245.60 L145.31,245.60 L145.83,245.60 L146.35,245.60 L146.87,245.60 L147.39,245.60 L147.90,245.60 L148.42,245.60 L148.94,245.60 L149.46,245.60 L149.98,245.60 L150.50,245.60 L151.02,245.60 L151.54,245.60 L152.06,245.60 L152.58,245.60 L153.09,245.60 L153.61,245.60 L154.13,245.60 L154.65,245.60 L155.17,245.60 L155.69,245.60 L156.21,245.60 L156.73,245.60 L157.25,245.60 L157.77,245.60 L158.29,245.60 L158.80,245.60 L159.32,245.60 L159.84,245.60 L160.36,245.60 L160.88,245.60 L161.40,245.60 L161.92,245.60 L162.44,245.60 L162.96,245.60 L163.48,245.60 L163.99,245.60 L164.51,245.60 L165.03,245.60 L165.55,245.60 L166.07,245.60 L166.59,245.60 L167.11,245.60 L167.63,245.60 L168.15,245.60 L168.67,245.60 L169.18,245.60 L169.70,245.60 L170.22,245.60 L170.74,245.60 L171.26,245.60 L171.78,245.60 L172.30,245.60 L172.82,245.60 L173.34,245.60 L173.86,245.60 L174.37,245.60 L174.89,245.60 L175.41,245.60 L175.93,245.60 L176.45,245.60 L176.97,245.60 L177.49,245.60 L178.01,245.60 L178.53,245.60 L179.05,245.60 L179.57,245.60 L180.08,245.60 L180.60,245.60 L181.12,245.60 L181.64,245.60 L182.16,245.60 L182.68,245.60 L183.20,245.60 L183.72,245.60 L184.24,245.60 L184.76,245.60 L185.27,245.60 L185.79,245.60 L186.31,245.60 L186.83,245.60 L187.35,245.60 L187.87,245.60 L188.39,245.60 L188.91,245.60 L189.43,245.60 L189.95,245.60 L190.46,245.60 L190.98,245.60 L191.50,245.60 L192.02,245.60 L192.54,245.60 L193.06,245.60 L193.58,245.60 L194.10,245.60 L194.62,245.60 L195.14,245.60 L195.65,245.60 L196.17,245.60 L196.69,245.60 L197.21,245.60 L197.73,245.60 L198.25,245.60 L198.77,245.60 L199.29,245.60 L199.81,245.60 L200.33,245.60 L200.84,245.60 L201.36,245.60 L201.88,245.60 L202.40,245.60 L202.92,245.60 L203.44,245.60 L203.96,245.60 L204.48,245.60 L205.00,245.60 L205.52,245.60 L206.04,245.60 L206.55,245.60 L207.07,245.60 L207.59,245.60 L208.11,245.60 L208.63,245.60 L209.15,245.60 L209.67,245.60 L210.19,245.60 L210.71,245.60 L211.23,245.60 L211.74,245.60 L212.26,245.60 L212.78,245.60 L213.30,245.60 L213.82,245.60 L214.34,245.60 L214.86,245.60 L215.38,245.60 L215.90,245.60 L216.42,245.60 L216.93,245.60 L217.45,245.60 L217.97,245.60 L218.49,245.60 L219.01,245.60 L219.53,245.60 L220.05,245.60 L220.57,245.60 L221.09,245.60 L221.61,245.60 L222.12,245.60 L222.64,245.60 L223.16,245.60 L223.68,245.60 L224.20,245.60 L224.72,245.60 L225.24,245.60 L225.76,245.60 L226.28,245.60 L226.80,245.60 L227.32,245.60 L227.83,245.60 L228.35,245.60 L228.87,245.60 L229.39,245.60 L229.91,245.60 L230.43,245.60 L230.95,245.60 L231.47,245.60 L231.99,245.60 L232.51,245.60 L233.02,245.60 L233.54,245.60 L234.06,245.60 L234.58,245.60 L235.10,245.60 L235.62,245.60 L236.14,245.60 L236.66,245.60 L237.18,245.60 L237.70,245.60 L238.21,245.60 L238.73,245.60 L239.25,245.60 L239.77,245.60 L240.29,245.60 L240.81,245.60 L241.33,245.60 L241.85,245.60 L242.37,245.60 L242.89,245.60 L243.40,245.60 L243.92,245.60 L244.44,245.60 L244.96,245.60 L245.48,245.60 L246.00,245.60 L246.52,245.60 L247.04,245.60 L247.56,245.60 L248.08,245.60 L248.59,245.60 L249.11,245.60 L249.63,245.60 L250.15,245.60 L250.67,245.60 L251.19,245.60 L251.71,245.60 L252.23,245.60 L252.75,245.60 L253.27,245.60 L253.79,245.60 L254.30,245.60 L254.82,245.60 L255.34,245.60 L255.86,245.60 L256.38,245.60 L256.90,245.60 L257.42,245.60 L257.94,245.60 L258.46,245.60 L258.98,245.60 L259.49,245.60 L260.01,245.60 L260.53,245.60 L261.05,245.60 L261.57,245.60 L262.09,245.60 L262.61,245.60 L263.13,245.60 L263.65,245.60 L264.17,245.60 L264.68,245.60 L265.20,245.60 L265.72,245.60 L266.24,245.60 L266.76,245.60 L267.28,245.60 L267.80,245.60 L268.32,245.60 L268.84,245.60 L269.36,245.60 L269.87,245.60 L270.39,245.60 L270.91,245.60 L271.43,245.60 L271.95,245.60 L272.47,245.60 L272.99,245.60 L273.51,245.60 L274.03,245.60 L274.55,245.60 L275.06,245.60 L275.58,245.60 L276.10,245.60 L276.62,245.60 L277.14,245.60 L277.66,245.60 L278.18,245.60 L278.70,245.60 L279.22,245.60 L279.74,245.60 L280.26,245.60 L280.77,245.60 L281.29,245.60 L281.81,245.60 L282.33,245.60 L282.85,245.60 L283.37,245.60 L283.89,245.60 L284.41,245.60 L284.93,245.60 L285.45,245.60 L285.96,245.60 L286.48,245.60 L287.00,245.60 L287.52,245.60 L288.04,245.60 L288.56,245.60 L289.08,245.60 L289.60,245.60 L290.12,245.60 L290.64,245.60 L291.15,245.60 L291.67,245.60 L292.19,245.60 L292.71,245.60 L293.23,245.60 L293.75,245.60 L294.27,245.60 L294.79,245.60 L295.31,245.60 L295.83,245.60 L296.34,245.60 L296.86,245.60 L297.38,245.60 L297.90,245.60 L298.42,245.60 L298.94,245.60 L299.46,245.60 L299.98,245.60 L300.50,245.60 L301.02,245.60 L301.54,245.60 L302.05,245.60 L302.57,245.60 L303.09,245.60 L303.61,245.60 L304.13,245.60 L304.65,245.60 L305.17,245.60 L305.69,245.60 L306.21,245.60 L306.73,245.60 L307.24,245.60 L307.76,245.60 L308.28,245.60 L308.80,245.60 L309.32,245.60 L309.84,245.60 L310.36,245.60 L310.88,245.60 L311.40,245.60 L311.92,245.60 L312.43,245.60 L312.95,245.60 L313.47,245.60 L313.99,245.60 L314.51,245.60 L315.03,245.59 L315.55,245.59 L316.07,245.59 L316.59,245.59 L317.11,245.59 L317.62,245.59 L318.14,245.59 L318.66,245.59 L319.18,245.59 L319.70,245.59 L320.22,245.59 L320.74,245.59 L321.26,245.59 L321.78,245.59 L322.30,245.59 L322.81,245.59 L323.33,245.59 L323.85,245.59 L324.37,245.59 L324.89,245.59 L325.41,245.59 L325.93,245.59 L326.45,245.59 L326.97,245.59 L327.49,245.58 L328.01,245.58 L328.52,245.58 L329.04,245.58 L329.56,245.58 L330.08,245.58 L330.60,245.58 L331.12,245.58 L331.64,245.58 L332.16,245.58 L332.68,245.58 L333.20,245.57 L333.71,245.57 L334.23,245.57 L334.75,245.57 L335.27,245.57 L335.79,245.57 L336.31,245.57 L336.83,245.57 L337.35,245.56 L337.87,245.56 L338.39,245.56 L338.90,245.56 L339.42,245.56 L339.94,245.55 L340.46,245.55 L340.98,245.55 L341.50,245.55 L342.02,245.54 L342.54,245.54 L343.06,245.54 L343.58,245.54 L344.09,245.53 L344.61,245.53 L345.13,245.53 L345.65,245.52 L346.17,245.52 L346.69,245.52 L347.21,245.51 L347.73,245.51 L348.25,245.50 L348.77,245.50 L349.28,245.50 L349.80,245.49 L350.32,245.49 L350.84,245.48 L351.36,245.47 L351.88,245.47 L352.40,245.46 L352.92,245.46 L353.44,245.45 L353.96,245.44 L354.48,245.43 L354.99,245.43 L355.51,245.42 L356.03,245.41 L356.55,245.40 L357.07,245.39 L357.59,245.38 L358.11,245.37 L358.63,245.36 L359.15,245.35 L359.67,245.34 L360.18,245.33 L360.70,245.31 L361.22,245.30 L361.74,245.29 L362.26,245.27 L362.78,245.26 L363.30,245.24 L363.82,245.22 L364.34,245.21 L364.86,245.19 L365.37,245.17 L365.89,245.15 L366.41,245.13 L366.93,245.10 L367.45,245.08 L367.97,245.06 L368.49,245.03 L369.01,245.01 L369.53,244.98 L370.05,244.95 L370.56,244.92 L371.08,244.89 L371.60,244.85 L372.12,244.82 L372.64,244.78 L373.16,244.74 L373.68,244.70 L374.20,244.66 L374.72,244.62 L375.24,244.57 L375.76,244.52 L376.27,244.47 L376.79,244.42 L377.31,244.37 L377.83,244.31 L378.35,244.25 L378.87,244.19 L379.39,244.12 L379.91,244.05 L380.43,243.98 L380.95,243.90 L381.46,243.83 L381.98,243.74 L382.50,243.66 L383.02,243.57 L383.54,243.47 L384.06,243.37 L384.58,243.27 L385.10,243.16 L385.62,243.05 L386.14,242.93 L386.65,242.81 L387.17,242.68 L387.69,242.54 L388.21,242.40 L388.73,242.25 L389.25,242.10 L389.77,241.94 L390.29,241.77 L390.81,241.59 L391.33,241.41 L391.84,241.22 L392.36,241.01 L392.88,240.80 L393.40,240.58 L393.92,240.35 L394.44,240.11 L394.96,239.86 L395.48,239.60 L396.00,239.32 L396.52,239.04 L397.03,238.74 L397.55,238.42 L398.07,238.10 L398.59,237.76 L399.11,237.40 L399.63,237.03 L400.15,236.64 L400.67,236.24 L401.19,235.81 L401.71,235.37 L402.23,234.91 L402.74,234.43 L403.26,233.93 L403.78,233.41 L404.30,232.87 L404.82,232.30 L405.34,231.70 L405.86,231.09 L406.38,230.44 L406.90,229.77 L407.42,229.07 L407.93,228.34 L408.45,227.58 L408.97,226.79 L409.49,225.96 L410.01,225.10 L410.53,224.21 L411.05,223.27 L411.57,222.30 L412.09,221.28 L412.61,220.22 L413.12,219.11 L413.64,217.96 L414.16,216.75 L414.68,215.50 L415.20,214.18 L415.72,212.81 L416.24,211.37 L416.76,209.87 L417.28,208.30 L417.80,206.66 L418.31,204.95 L418.83,203.17 L419.35,201.30 L419.87,199.36 L420.39,197.35 L420.91,195.25 L421.43,193.08 L421.95,190.83 L422.47,188.50 L422.99,186.10 L423.51,183.63 L424.02,181.08 L424.54,178.46 L425.06,175.77 L425.58,173.02 L426.10,170.20 L426.62,167.32 L427.14,164.39 L427.66,161.40 L428.18,158.36 L428.70,155.27 L429.21,152.15 L429.73,148.98 L430.25,145.79 L430.77,142.56 L431.29,139.32 L431.81,136.05 L432.33,132.78 L432.85,129.50 L433.37,126.22 L433.89,122.94 L434.40,119.67 L434.92,116.41 L435.44,113.18 L435.96,109.97 L436.48,106.79 L437.00,103.65 L437.52,100.55 L438.04,97.48 L438.56,94.47 L439.08,91.51 L439.59,88.60 L440.11,85.75 L440.63,82.96 L441.15,80.23 L441.67,77.57 L442.19,74.97 L442.71,72.44 L443.23,69.99 L443.75,67.60 L444.27,65.28 L444.78,63.04 L445.30,60.87 L445.82,58.77 L446.34,56.74 L446.86,54.78 L447.38,52.90 L447.90,51.08 L448.42,49.33 L448.94,47.65 L449.46,46.04 L449.98,44.49 L450.49,43.01 L451.01,41.58 L451.53,40.22 L452.05,38.92 L452.57,37.67 L453.09,36.48 L453.61,35.34 L454.13,34.25 L454.65,33.21 L455.17,32.22 L455.68,31.28 L456.20,30.38 L456.72,29.52 L457.24,28.71 L457.76,27.93 L458.28,27.19 L458.80,26.49 L459.32,25.83 L459.84,25.19 L460.36,24.59 L460.87,24.02 L461.39,23.48 L461.91,22.96 L462.43,22.47 L462.95,22.01 L463.47,21.57 L463.99,21.15 L464.51,20.76 L465.03,20.38 L465.55,20.03 L466.06,19.69 L466.58,19.37 L467.10,19.07 L467.62,18.78 L468.14,18.51 L468.66,18.26 L469.18,18.02 L469.70,17.79 L470.22,17.57 L470.74,17.36 L471.25,17.17 L471.77,16.98 L472.29,16.81 L472.81,16.64 L473.33,16.49 L473.85,16.34 L474.37,16.20 L474.89,16.07 L475.41,15.95 L475.93,15.83 L476.45,15.72 L476.96,15.61 L477.48,15.51 L478.00,15.42 L478.52,15.33 L479.04,15.24 L479.56,15.16 L480.08,15.09 L480.60,15.02 L481.12,14.95 L481.64,14.89 L482.15,14.83 L482.67,14.77 L483.19,14.72 L483.71,14.67 L484.23,14.62 L484.75,14.57 L485.27,14.53 L485.79,14.49 L486.31,14.45 L486.83,14.42 L487.34,14.38 L487.86,14.35 L488.38,14.32 L488.90,14.29 L489.42,14.26 L489.94,14.24 L490.46,14.21 L490.98,14.19 L491.50,14.17 L492.02,14.15 L492.53,14.13 L493.05,14.11 L493.57,14.09 L494.09,14.08 L494.61,14.06 L495.13,14.05 L495.65,14.03 L496.17,14.02 L496.69,14.01 L497.21,14.00 L497.73,13.99 L498.24,13.98 L498.76,13.97 L499.28,13.96 L499.80,13.95 L500.32,13.94 L500.84,13.93 L501.36,13.92 L501.88,13.92 L502.40,13.91 L502.92,13.91 L503.43,13.90 L503.95,13.89 L504.47,13.89 L504.99,13.88 L505.51,13.88 L506.03,13.87 L506.55,13.87 L507.07,13.87 L507.59,13.86 L508.11,13.86 L508.62,13.86 L509.14,13.85 L509.66,13.85 L510.18,13.85 L510.70,13.84 L511.22,13.84 L511.74,13.84 L512.26,13.84 L512.78,13.84 L513.30,13.83 L513.81,13.83 L514.33,13.83 L514.85,13.83 L515.37,13.83 L515.89,13.83 L516.41,13.82 L516.93,13.82 L517.45,13.82 L517.97,13.82 L518.49,13.82 L519.00,13.82 L519.52,13.82 L520.04,13.82 L520.56,13.82 L521.08,13.81 L521.60,13.81" fill="none" stroke="#8FB032" stroke-width="3.3" stroke-linejoin="round"/>
<path d="M32.91,257.80 v-2.70 M32.91,1.50 v2.70 M64.32,257.80 v-5.00 M64.32,1.50 v5.00 M95.74,257.80 v-2.70 M95.74,1.50 v2.70 M127.15,257.80 v-2.70 M127.15,1.50 v2.70 M158.56,257.80 v-2.70 M158.56,1.50 v2.70 M189.98,257.80 v-5.00 M189.98,1.50 v5.00 M221.40,257.80 v-2.70 M221.40,1.50 v2.70 M252.81,257.80 v-2.70 M252.81,1.50 v2.70 M284.23,257.80 v-2.70 M284.23,1.50 v2.70 M315.64,257.80 v-5.00 M315.64,1.50 v5.00 M347.06,257.80 v-2.70 M347.06,1.50 v2.70 M378.47,257.80 v-2.70 M378.47,1.50 v2.70 M409.88,257.80 v-2.70 M409.88,1.50 v2.70 M441.30,257.80 v-5.00 M441.30,1.50 v5.00 M472.72,257.80 v-2.70 M472.72,1.50 v2.70 M504.13,257.80 v-2.70 M504.13,1.50 v2.70 M535.55,257.80 v-2.70 M535.55,1.50 v2.70 M31.70,257.19 h2.70 M545.30,257.19 h-2.70 M31.70,245.60 h5.00 M545.30,245.60 h-5.00 M31.70,234.01 h2.70 M545.30,234.01 h-2.70 M31.70,222.42 h2.70 M545.30,222.42 h-2.70 M31.70,210.83 h2.70 M545.30,210.83 h-2.70 M31.70,199.24 h5.00 M545.30,199.24 h-5.00 M31.70,187.65 h2.70 M545.30,187.65 h-2.70 M31.70,176.06 h2.70 M545.30,176.06 h-2.70 M31.70,164.47 h2.70 M545.30,164.47 h-2.70 M31.70,152.88 h5.00 M545.30,152.88 h-5.00 M31.70,141.29 h2.70 M545.30,141.29 h-2.70 M31.70,129.70 h2.70 M545.30,129.70 h-2.70 M31.70,118.11 h2.70 M545.30,118.11 h-2.70 M31.70,106.52 h5.00 M545.30,106.52 h-5.00 M31.70,94.93 h2.70 M545.30,94.93 h-2.70 M31.70,83.34 h2.70 M545.30,83.34 h-2.70 M31.70,71.75 h2.70 M545.30,71.75 h-2.70 M31.70,60.16 h5.00 M545.30,60.16 h-5.00 M31.70,48.57 h2.70 M545.30,48.57 h-2.70 M31.70,36.98 h2.70 M545.30,36.98 h-2.70 M31.70,25.39 h2.70 M545.30,25.39 h-2.70 M31.70,13.80 h5.00 M545.30,13.80 h-5.00 M31.70,2.21 h2.70 M545.30,2.21 h-2.70" fill="none" stroke="#606060" stroke-width="1"/>
<path d="M31.00,0 V258.50" fill="none" stroke="#929292" stroke-width="1.35"/>
<path d="M545.80,0 V258.50" fill="none" stroke="#8a8a8a" stroke-width="1.45"/>
<path d="M30.32,258.50 H546.68" fill="none" stroke="#8a8a8a" stroke-width="1.45"/>
<rect x="30.28" y="0" width="516.44" height="1.55" fill="#aeaeae"/>
<g font-family="'Liberation Sans', sans-serif" font-weight="bold" font-size="16.5px" fill="#666666">
<text x="23.6" y="253.00" text-anchor="end">0.0</text>
<text x="23.6" y="206.64" text-anchor="end">0.2</text>
<text x="23.6" y="160.28" text-anchor="end">0.4</text>
<text x="23.6" y="113.92" text-anchor="end">0.6</text>
<text x="23.6" y="67.56" text-anchor="end">0.8</text>
<text x="23.6" y="21.20" text-anchor="end">1.0</text>
<text x="65.92" y="283.2">6</text>
<text x="52.52" y="284.85" font-size="18.5px">−</text>
<text x="191.58" y="283.2">4</text>
<text x="178.18" y="284.85" font-size="18.5px">−</text>
<text x="317.24" y="283.2">2</text>
<text x="303.84" y="284.85" font-size="18.5px">−</text>
<text x="441.30" y="283.2" text-anchor="middle">0</text>
<text x="236.0" y="320.4" font-size="18.5px">−</text>
<text x="247.6" y="319">log</text>
<text x="277" y="323.4" font-size="12px" letter-spacing="0.6">10</text>
<text x="296.5" y="319" letter-spacing="1.25">(1+z)</text>
</g>
<path d="M43.4,92.9 H99.25" fill="none" stroke="#5E81B5" stroke-width="2.6" stroke-dasharray="8.2 3.58"/>
<path d="M43.4,125.3 H99.25" fill="none" stroke="#E19C24" stroke-width="2.6" stroke-dasharray="4.2 3.18"/>
<path d="M43.4,157.5 H100.9" fill="none" stroke="#8FB032" stroke-width="3.1"/>
<g font-family="'Liberation Sans', sans-serif" font-weight="bold" fill="#000000">
<text x="111.5" y="99.30" font-size="17px" stroke="#000" stroke-width="0.55">Ω</text>
<text x="127.20" y="104.10" font-size="13px" font-style="italic">m</text>
<text x="111.5" y="132.50" font-size="17px" stroke="#000" stroke-width="0.55">Ω</text>
<text x="126.60" y="136.30" font-size="13px" font-style="italic">r</text>
<text x="111.5" y="163.80" font-size="17px" stroke="#000" stroke-width="0.55">Ω</text>
<text x="128.20" y="168.40" font-size="13px" font-style="italic">ϕ</text>
</g>
</svg>
</body></html>
